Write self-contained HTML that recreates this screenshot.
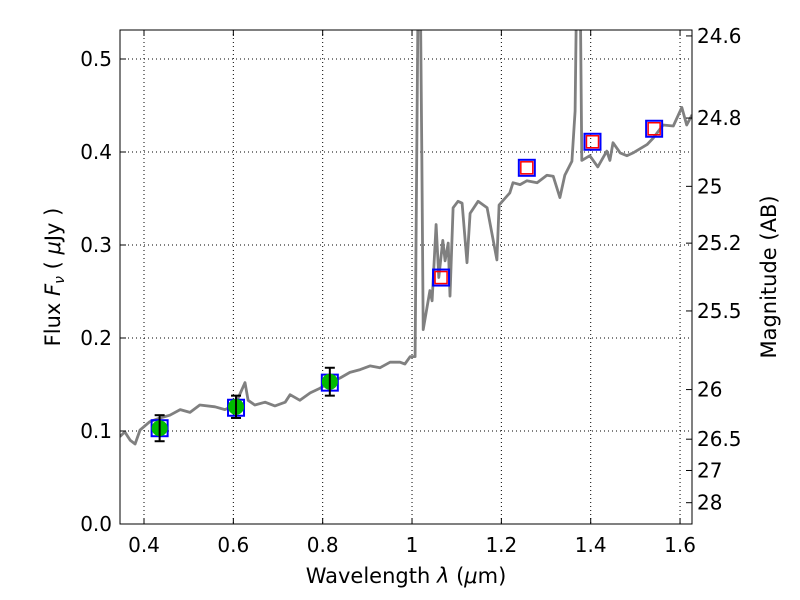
<!DOCTYPE html>
<html><head><meta charset="utf-8"><style>
body{margin:0;background:#fff}
svg{display:block;font-family:"DejaVu Sans","Liberation Sans",sans-serif}
</style></head><body>
<svg id="chart" width="800" height="600">
<defs><clipPath id="clip"><rect x="120" y="30" width="572" height="494"/></clipPath></defs>
<rect x="0" y="0" width="800" height="600" fill="#fff"/>
<g id="grid"></g>
<g id="series" clip-path="url(#clip)"></g>
<g id="axes"></g>
<text x="406" y="583" font-size="21" text-anchor="middle">Wavelength  <tspan font-style="italic">λ</tspan> (<tspan font-style="italic">μ</tspan>m)</text>
<text transform="translate(60,277) rotate(-90)" font-size="21" text-anchor="middle">Flux  <tspan font-style="italic">F</tspan><tspan font-style="italic" font-size="14" dy="4">ν</tspan><tspan dy="-4">  ( </tspan><tspan font-style="italic">μ</tspan>Jy )</text>
<text transform="translate(776,277) rotate(-90)" font-size="21" text-anchor="middle">Magnitude (AB)</text>
</svg>
<script>
const specWave=[0.346,0.357,0.369,0.380,0.391,0.413,0.436,0.458,0.481,0.503,0.525,0.559,0.581,0.604,0.626,0.633,0.648,0.671,0.693,0.716,0.727,0.749,0.772,0.794,0.816,0.839,0.861,0.884,0.906,0.928,0.951,0.973,0.984,0.996,1.007,1.014,1.018,1.022,1.025,1.040,1.045,1.054,1.060,1.069,1.074,1.081,1.085,1.092,1.103,1.112,1.123,1.130,1.148,1.168,1.190,1.195,1.219,1.226,1.242,1.257,1.280,1.302,1.316,1.331,1.342,1.358,1.365,1.369,1.376,1.380,1.398,1.416,1.436,1.443,1.450,1.466,1.481,1.495,1.526,1.540,1.562,1.585,1.604,1.615,1.627];
const specFlux=[0.094,0.099,0.090,0.086,0.101,0.110,0.114,0.117,0.123,0.120,0.128,0.126,0.123,0.128,0.152,0.133,0.128,0.131,0.127,0.131,0.139,0.133,0.141,0.146,0.152,0.157,0.163,0.166,0.170,0.168,0.174,0.174,0.172,0.180,0.180,0.6,0.6,0.4,0.209,0.251,0.240,0.322,0.265,0.305,0.283,0.302,0.245,0.340,0.347,0.345,0.281,0.334,0.347,0.340,0.284,0.343,0.356,0.367,0.365,0.369,0.367,0.375,0.374,0.351,0.375,0.390,0.444,0.6,0.6,0.391,0.396,0.384,0.401,0.391,0.410,0.399,0.396,0.399,0.408,0.415,0.429,0.428,0.448,0.429,0.440];
const photWave=[0.435,0.606,0.816,1.065,1.257,1.404,1.542];
const photFlux=[0.103,0.125,0.152,0.265,0.383,0.411,0.425];
const groundFlux=[0.103,0.126,0.153];
const groundErr=[0.014,0.012,0.015];
const modelFlux=[0.265,0.383,0.411,0.425];
const xTicks=[0.4,0.6,0.8,1.0,1.2,1.4,1.6];
const xTickLabels=["0.4","0.6","0.8","1","1.2","1.4","1.6"];
const yTicks=[0,0.1,0.2,0.3,0.4,0.5];
const yTickLabels=["0.0","0.1","0.2","0.3","0.4","0.5"];
const magTicks=[24.6,24.8,25,25.2,25.5,26,26.5,27,28];
const magTickLabels=["24.6","24.8","25","25.2","25.5","26","26.5","27","28"];

const L=120,R=692,T=30,B=524;
const x=v=>144+(v-0.4)*446.7;
const y=v=>B-v*930;
const NS="http://www.w3.org/2000/svg";
function mk(tag,attrs,parent){const e=document.createElementNS(NS,tag);for(const k in attrs)e.setAttribute(k,attrs[k]);parent.appendChild(e);return e;}
const grid=document.getElementById('grid'),ser=document.getElementById('series'),ax=document.getElementById('axes');

xTicks.forEach((t,i)=>{
 const g=mk('line',{x1:x(t),x2:x(t),y1:T,y2:B,stroke:'#000','stroke-width':1,'stroke-dasharray':'1,3'},grid);
 
 
 mk('line',{x1:x(t),x2:x(t),y1:B,y2:B-6,stroke:'#000'},ax);
 mk('line',{x1:x(t),x2:x(t),y1:T,y2:T+6,stroke:'#000'},ax);
 const tx=mk('text',{x:x(t),y:B+28,'font-size':20,'text-anchor':'middle'},ax);
 tx.textContent=xTickLabels[i];
 
 
});
yTicks.forEach((t,i)=>{
 const g=mk('line',{x1:L,x2:R,y1:y(t),y2:y(t),stroke:'#000','stroke-width':1,'stroke-dasharray':'1,3'},grid);
 
 
 mk('line',{x1:L,x2:L+6,y1:y(t),y2:y(t),stroke:'#000'},ax);
 const tx=mk('text',{x:L-8,y:y(t)+7,'font-size':20,'text-anchor':'end'},ax);
 tx.textContent=yTickLabels[i];
 
 
});
magTicks.forEach((m,i)=>{
 const f=Math.pow(10,(23.9-m)/2.5);
 mk('line',{x1:R-6,x2:R,y1:y(f),y2:y(f),stroke:'#000'},ax);
 const tx=mk('text',{x:R+5,y:y(f)+7,'font-size':20},ax);
 tx.textContent=magTickLabels[i];
 
 
});
const frame=mk('rect',{x:L,y:T,width:R-L,height:B-T,fill:'none',stroke:'#000','stroke-width':1},ax);



const pts=specWave.map((w,i)=>x(w).toFixed(1)+','+y(specFlux[i]).toFixed(1)).join(' ');
const line=mk('polyline',{points:pts,fill:'none',stroke:'#808080','stroke-width':2.8,'stroke-linejoin':'round'},ser);



photWave.forEach((w,i)=>{
 const s=mk('rect',{x:x(w)-8,y:y(photFlux[i])-8,width:16,height:16,fill:'none',stroke:'#0000ff','stroke-width':2},ser);
 
 
});
groundFlux.forEach((f,i)=>{
 const w=photWave[i];
 const c=mk('circle',{cx:x(w),cy:y(f),r:8,fill:'#00bb00'},ser);
 
 
 const e=groundErr[i];
 mk('line',{x1:x(w),x2:x(w),y1:y(f+e),y2:y(f-e),stroke:'#000','stroke-width':2},ser);
 mk('line',{x1:x(w)-5,x2:x(w)+5,y1:y(f+e),y2:y(f+e),stroke:'#000','stroke-width':2},ser);
 mk('line',{x1:x(w)-5,x2:x(w)+5,y1:y(f-e),y2:y(f-e),stroke:'#000','stroke-width':2},ser);
});
modelFlux.forEach((f,i)=>{
 const w=photWave[i+3];
 const s=mk('rect',{x:x(w)-6,y:y(f)-6,width:12,height:12,fill:'none',stroke:'#ff0000','stroke-width':1.5},ser);
 
 
});
</script>
</body></html>
